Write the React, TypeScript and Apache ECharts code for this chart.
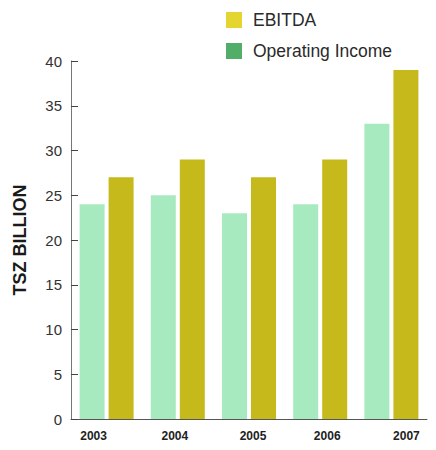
import React, { useEffect, useRef } from "react";
import * as echarts from "echarts";

const years = ["2003", "2004", "2005", "2006", "2007"];
const operatingIncome = [24, 25, 23, 24, 33];
const ebitda = [27, 29, 27, 29, 39];
const yTicks = { min: 0, max: 40, interval: 5 };

export default function App() {
  const ref = useRef<HTMLDivElement>(null);
  useEffect(() => {
    const chart = echarts.init(ref.current!, null, { renderer: "svg" });
    const labelBase = { fontFamily: "Liberation Sans", fontWeight: "bold", fontSize: 12, color: "#222" };
    chart.setOption({
      animation: false,
      backgroundColor: "#ffffff",
      grid: { left: 71, right: 9, top: 61, bottom: 31 },
      legend: {
        orient: "vertical",
        left: 221,
        top: 6,
        itemWidth: 16,
        itemHeight: 16,
        itemGap: 13,
        icon: "rect",
        textStyle: { fontFamily: "Liberation Sans", fontSize: 17.5, color: "#2a2a2a", padding: [0, 0, 0, 6] },
        data: [
          { name: "EBITDA", itemStyle: { color: "#e4d530" } },
          { name: "Operating Income", itemStyle: { color: "#52ad68" } },
        ],
      },
      xAxis: {
        type: "category",
        data: years,
        axisLine: { lineStyle: { color: "#555", width: 1 } },
        axisTick: { inside: true, length: 6, lineStyle: { color: "#555" } },
        axisLabel: {
          ...labelBase,
          margin: 11,
          formatter: (v: string, i: number) => `{l${i}|${v}}`,
          rich: {
            l0: { ...labelBase, padding: [0, 26, 0, 0] },
            l1: { ...labelBase, padding: [0, 6, 0, 0] },
            l2: { ...labelBase, padding: [0, 0, 0, 8] },
            l3: { ...labelBase, padding: [0, 0, 0, 14] },
            l4: { ...labelBase, padding: [0, 0, 0, 30] },
          },
        },
      },
      yAxis: {
        type: "value",
        min: yTicks.min,
        max: yTicks.max,
        interval: yTicks.interval,
        name: "TSZ BILLION",
        nameLocation: "middle",
        nameGap: 42,
        nameTextStyle: { fontFamily: "Liberation Sans", fontWeight: "bold", fontSize: 18, color: "#1a1a1a" },
        axisLine: { show: true, lineStyle: { color: "#777", width: 1 } },
        axisTick: { show: true, inside: true, length: 7, lineStyle: { color: "#444" } },
        splitLine: { show: false },
        axisLabel: { fontFamily: "Liberation Sans", fontSize: 15, color: "#333", margin: 9 },
      },
      series: [
        {
          name: "Operating Income",
          type: "bar",
          data: operatingIncome,
          barWidth: 25,
          barGap: "16%",
          itemStyle: { color: "#a8eac0" },
        },
        {
          name: "EBITDA",
          type: "bar",
          data: ebitda,
          barWidth: 25,
          barGap: "16%",
          itemStyle: { color: "#c6b91c" },
        },
      ],
    });
    return () => chart.dispose();
  }, []);
  return <div ref={ref} style={{ width: 436, height: 450, position: "absolute", left: 0, top: 0 }} />;
}
